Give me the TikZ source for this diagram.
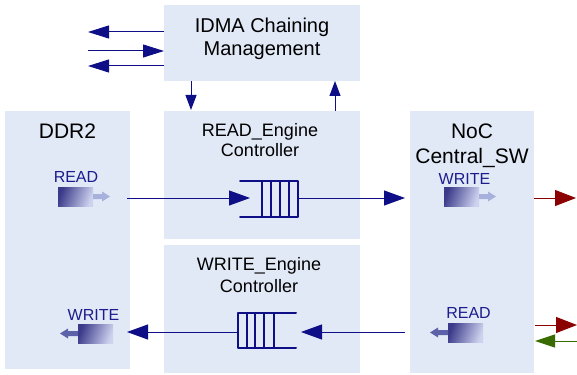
\documentclass[tikz,border=0pt]{standalone}
\usepackage{fontspec}
\setmainfont{Liberation Sans}
\usetikzlibrary{arrows.meta}
\definecolor{boxfill}{HTML}{E1E9F6}
\definecolor{navy}{HTML}{0E0E86}
\definecolor{dred}{HTML}{8B0000}
\definecolor{dgreen}{HTML}{3A6B00}
\definecolor{lblue}{HTML}{1C1C8E}
\definecolor{icondark}{HTML}{3A3A8A}
\definecolor{iconlight}{HTML}{CDD2EE}
\definecolor{stublight}{HTML}{A8B0DC}
\definecolor{stubdark}{HTML}{5C62A8}
\begin{document}
\begin{tikzpicture}[x=1pt,y=-1pt,
  blk/.style={fill=boxfill, draw=none, inner sep=0pt, outer sep=0pt, anchor=north west},
  ttl/.style={anchor=base, inner sep=0pt, font=\fontsize{#1}{#1}\selectfont},
  lbl/.style={anchor=base, inner sep=0pt, text=lblue, font=\fontsize{16}{16}\selectfont},
  icon/.style={anchor=north west, inner sep=0pt, outer sep=0pt, minimum width=35pt, minimum height=19pt, left color=icondark, right color=iconlight, shading angle=70},
  qbox/.style={anchor=north west, inner sep=0pt, outer sep=0pt, draw=none},
  queue/.style={draw=navy, line width=2pt, line cap=round, line join=round},
  flow/.style={draw=navy, line width=1pt, -{Triangle[length=21pt,width=15pt]}},
  small/.style={draw=navy, line width=1pt, -{Triangle[length=21pt,width=13pt]}},
  vert/.style={draw=navy, line width=1pt, -{Triangle[length=15pt,width=11pt]}},
  redflow/.style={draw=dred, line width=1pt, -{Triangle[length=21pt,width=16pt]}},
  greenflow/.style={draw=dgreen, line width=1pt, -{Triangle[length=20pt,width=13pt]}}
]
\useasboundingbox (0,0) rectangle (577,374);

% blocks
\node[blk, minimum width=196pt, minimum height=76pt] (idma) at (164,5) {};
\node[blk, minimum width=125pt, minimum height=258pt] (ddr) at (5,111) {};
\node[blk, minimum width=196pt, minimum height=128pt] (rdeng) at (164,111) {};
\node[blk, minimum width=196pt, minimum height=128pt] (wreng) at (164,245) {};
\node[blk, minimum width=124pt, minimum height=262pt] (noc) at (410,111) {};

% titles
\node[ttl=20] (idma1) at (262,33) {IDMA Chaining};
\node[ttl=20] (idma2) at (262,56) {Management};
\node[ttl=21] (ddrT) at (67.5,139) {DDR2};
\node[ttl=18] (rd1) at (260,136) {READ\_Engine};
\node[ttl=18] (rd2) at (260,157) {Controller};
\node[ttl=18] (wr1) at (259,270) {WRITE\_Engine};
\node[ttl=18] (wr2) at (259,292) {Controller};
\node[ttl=21] (noc1) at (472,139) {NoC};
\node[ttl=21] (noc2) at (472,163) {Central\_SW};

% inner labels
\node[lbl] (ddrRl) at (76,182) {READ};
\node[lbl] (nocWl) at (464.5,184) {WRITE};
\node[lbl] (ddrWl) at (93.5,320) {WRITE};
\node[lbl] (nocRl) at (468.5,318) {READ};

% icons
\node[icon] (ddrRi) at (58,187) {};
\node[icon] (nocWi) at (444,187) {};
\node[icon] (ddrWi) at (78,324) {};
\node[icon] (nocRi) at (448,323) {};
\fill[stublight] (ddrRi.east) ++(0,-2.5) -- ++(9,0) -- ++(0,-2.5) -- ++(8,5) -- ++(-8,5) -- ++(0,-2.5) -- ++(-9,0) -- cycle;
\fill[stublight] (nocWi.east) ++(0,-2.5) -- ++(9,0) -- ++(0,-2.5) -- ++(8,5) -- ++(-8,5) -- ++(0,-2.5) -- ++(-9,0) -- cycle;
\fill[stubdark] (ddrWi.west) ++(0,-2.5) -- ++(-10,0) -- ++(0,-2.5) -- ++(-8,5) -- ++(8,5) -- ++(0,-2.5) -- ++(10,0) -- cycle;
\fill[stubdark] (nocRi.west) ++(0,-2.5) -- ++(-10,0) -- ++(0,-2.5) -- ++(-8,5) -- ++(8,5) -- ++(0,-2.5) -- ++(10,0) -- cycle;

% queues
\node[qbox, minimum width=58pt, minimum height=36pt] (rq) at (240,181) {};
\draw[queue] (rq.north west) -- (rq.north east) -- (rq.south east) -- (rq.south west);
\foreach \d in {22,30.5,39.5,48.5}
  \draw[queue] ([xshift=\d pt]rq.north west) -- ([xshift=\d pt]rq.south west);
\node[qbox, minimum width=58pt, minimum height=35pt] (wq) at (238,313) {};
\draw[queue] (wq.north east) -- (wq.north west) -- (wq.south west) -- (wq.south east);
\foreach \d in {8.5,17,26,36}
  \draw[queue] ([xshift=\d pt]wq.north west) -- ([xshift=\d pt]wq.south west);

% connector end points
\coordinate (ddrout) at (127,198);
\coordinate (rqin) at (250,198);
\coordinate (rqout) at (298,198);
\coordinate (nocin) at (405,198);
\coordinate (nocout) at (534,198);
\coordinate (redend) at (576,198);
\coordinate (nocout2) at (405,332);
\coordinate (wqin) at (301,332);
\coordinate (wqout) at (238,332);
\coordinate (ddrin) at (127,332);
\coordinate (r2a) at (535,325);
\coordinate (r2b) at (577,325);
\coordinate (g2a) at (577,341);
\coordinate (g2b) at (535,341);
\coordinate (ia) at (88,32);
\coordinate (ib) at (88,51);
\coordinate (ic) at (88,66);
\coordinate (ia2) at (164,32);
\coordinate (ib2) at (164,51);
\coordinate (ic2) at (164,66);
\coordinate (dn1) at (191,81);
\coordinate (dn2) at (191,110);
\coordinate (up1) at (335,111);
\coordinate (up2) at (335,81);

% connectors
\draw[flow] (ddrout) -- (rqin);
\draw[flow] (rqout) -- (nocin);
\draw[redflow] (nocout) -- (redend);
\draw[flow] (nocout2) -- (wqin);
\draw[flow] (wqout) -- (ddrin);
\draw[redflow] (r2a) -- (r2b);
\draw[greenflow] (g2a) -- (g2b);
\draw[small] (ia2) -- (ia);
\draw[small] (ib) -- (ib2);
\draw[small] (ic2) -- (ic);
\draw[vert] (dn1) -- (dn2);
\draw[vert] (up1) -- (up2);
\end{tikzpicture}
\end{document}
